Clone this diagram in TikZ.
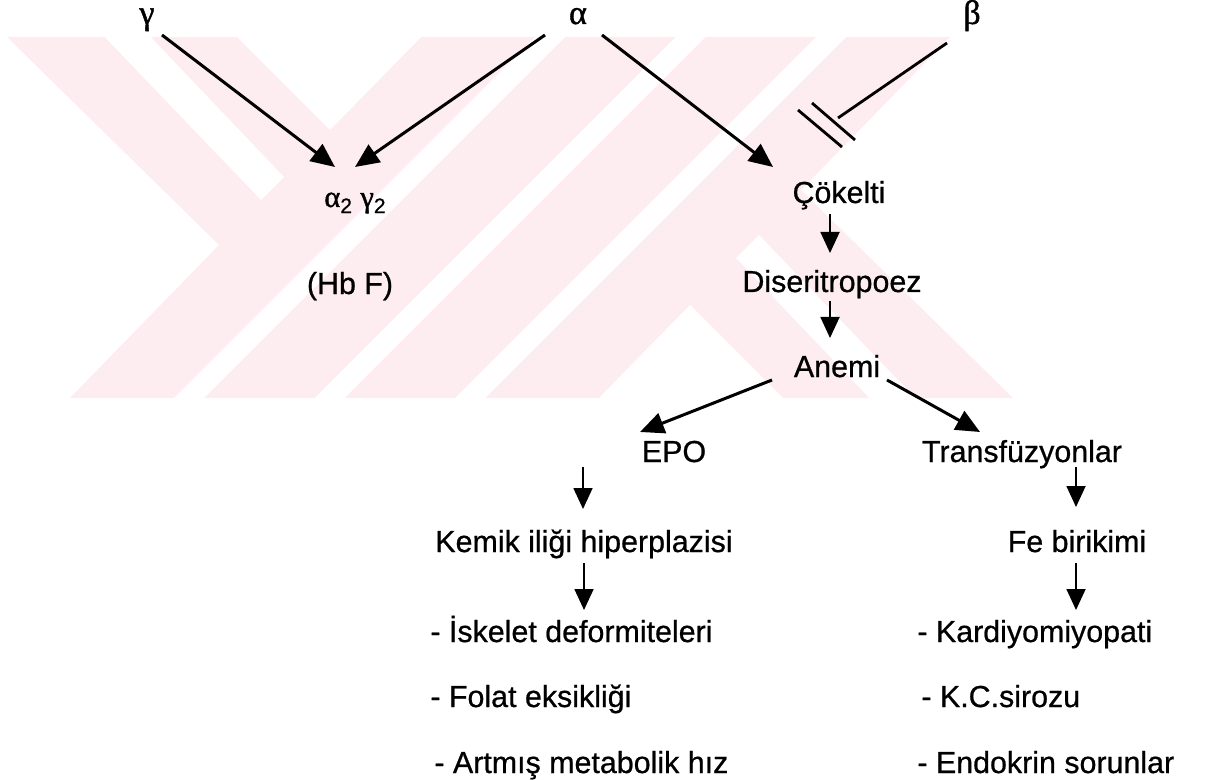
\documentclass[tikz,border=0pt]{standalone}
\usepackage{fontspec}
\setmainfont{Liberation Sans}[FakeBold=0.7]
\newfontfamily\grk{Liberation Serif}[FakeBold=1.2]
\usetikzlibrary{arrows.meta}
\definecolor{wmpink}{RGB}{253,236,240}
\begin{document}
\begin{tikzpicture}[x=0.5pt, y=-0.5pt,
  lbl/.style={inner sep=0pt, font=\fontsize{15.2pt}{18pt}\selectfont, anchor=base},
  lbll/.style={lbl, anchor=base west},
  grkl/.style={inner sep=0pt, font=\grk\fontsize{17pt}{19pt}\selectfont, anchor=base},
  bigarr/.style={line width=1.5pt, -{Triangle[length=12pt,width=10.5pt]}},
  smallarr/.style={line width=0.9pt, -{Triangle[length=10.5pt,width=9.5pt]}},
  plainline/.style={line width=1.4pt},
  wm/.style={fill=wmpink, draw=none},
  wmgap/.style={fill=white, draw=none}]
\useasboundingbox (0,0) rectangle (1224,780);
% ---- watermark ----
\fill[wm] (7,37) -- (950,37) -- (801,190) -- (1013,398) -- (70,398) -- (219,245) -- cycle;
\begin{scope}
  \clip (7,37) -- (950,37) -- (801,190) -- (1013,398) -- (70,398) -- (219,245) -- cycle;
  \fill[wmgap] (98,30) -- (144,30) -- (284,177) -- (261,200) -- cycle;
  \fill[wmgap] (922,405) -- (876,405) -- (736,258) -- (759,235) -- cycle;
  \fill[wmgap] (230,30) -- (330,130) -- (428,30) -- cycle;
  \fill[wmgap] (592,405) -- (690,305) -- (790,405) -- cycle;
  \foreach \c in {587,727.5,868}
    \fill[wmgap] (\c-15,0) -- (\c+15,0) -- (\c+15-450,450) -- (\c-15-450,450) -- cycle;
\end{scope}
% ---- nodes ----
\node[grkl] (g) at (147,24) {γ};
\node[grkl] (a) at (578,24) {α};
\node[grkl] (b) at (972,24) {β};
\node[lbl] (ag) at (355,207) {{\grk α}\raisebox{-0.2em}{\fontsize{10.5pt}{12pt}\selectfont 2} {\grk γ}\raisebox{-0.2em}{\fontsize{10.5pt}{12pt}\selectfont 2}};
\node[lbl] (hbf) at (350,294) {(Hb F)};
\node[lbl] (cok) at (839,203) {Çökelti};
\node[lbl] (dis) at (832,292) {Diseritropoez};
\node[lbl] (ane) at (837,377) {Anemi};
\node[lbl] (epo) at (674,462) {EPO};
\node[lbl] (tra) at (1022,462) {Transfüzyonlar};
\node[lbl] (kem) at (584,552) {Kemik iliği hiperplazisi};
\node[lbl] (fe) at (1077,552) {Fe birikimi};
\node[lbll] (i1) at (430,642) {- İskelet deformiteleri};
\node[lbll] (i2) at (430,707) {- Folat eksikliği};
\node[lbll] (i3) at (434,773) {- Artmış metabolik hız};
\node[lbll] (k1) at (917,642) {- Kardiyomiyopati};
\node[lbll] (k2) at (921,707) {- K.C.sirozu};
\node[lbll] (k3) at (917,773) {- Endokrin sorunlar};
\coordinate (cut) at (838,118);
% ---- connectors ----
\draw[bigarr] ([shift={(15,11)}]g.base) -- ([shift={(-20,-40)}]ag.base);
\draw[bigarr] ([shift={(-33,11)}]a.base) -- ([shift={(0,-40)}]ag.base);
\draw[bigarr] ([shift={(24,11)}]a.base) -- ([shift={(-66,-36)}]cok.base);
\draw[plainline] ([shift={(-25,19)}]b.base) -- (cut);
\draw[plainline] ([shift={(-40,-8)}]cut) -- ([shift={(4,29)}]cut);
\draw[plainline] ([shift={(-26,-15)}]cut) -- ([shift={(17,22)}]cut);
\draw[smallarr] ([shift={(-9,11)}]cok.base) -- ([shift={(-2,-39)}]dis.base);
\draw[smallarr] ([shift={(-2,9)}]dis.base) -- ([shift={(-7,-39)}]ane.base);
\draw[bigarr] ([shift={(-65,3)}]ane.base) -- ([shift={(-34,-30)}]epo.base);
\draw[bigarr] ([shift={(50,3)}]ane.base) -- ([shift={(-42,-30)}]tra.base);
\draw[smallarr] ([shift={(-91,5)}]epo.base) -- ([shift={(-1,-43)}]kem.base);
\draw[smallarr] ([shift={(54,5)}]tra.base) -- ([shift={(-1,-45)}]fe.base);
\draw[smallarr] ([shift={(0,11)}]kem.base) -- ([shift={(154,-32)}]i1.base west);
\draw[smallarr] ([shift={(-1,11)}]fe.base) -- ([shift={(159,-32)}]k1.base west);
\end{tikzpicture}
\end{document}
